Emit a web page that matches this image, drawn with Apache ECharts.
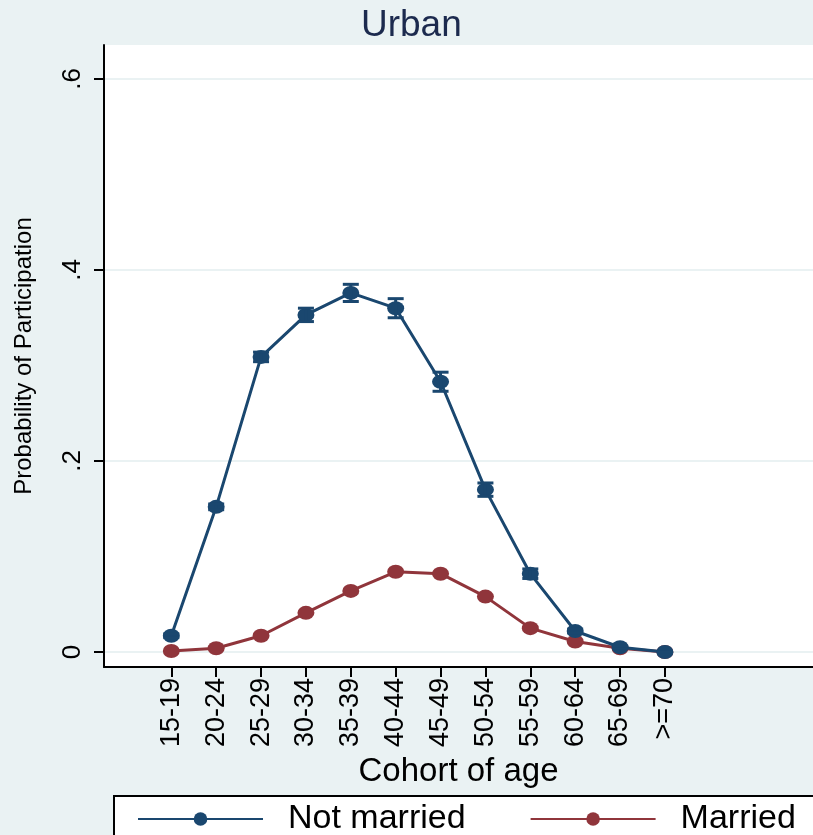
<!DOCTYPE html>
<html>
<head>
<meta charset="utf-8">
<script src="https://cdn.jsdelivr.net/npm/echarts@6/dist/echarts.min.js"></script>
<style>
html, body { margin: 0; padding: 0; background: #eaf2f3; }
#chart { width: 813px; height: 835px; }
</style>
</head>
<body>
<div id="chart"></div>
<script>
var cohorts = ['15-19', '20-24', '25-29', '30-34', '35-39', '40-44', '45-49', '50-54', '55-59', '60-64', '65-69', '>=70'];
var notMarried = [0.017, 0.152, 0.309, 0.353, 0.376, 0.360, 0.283, 0.170, 0.082, 0.022, 0.005, 0.000];
var notMarriedCI = [0.002, 0.003, 0.005, 0.007, 0.009, 0.010, 0.010, 0.007, 0.005, 0.002, 0.001, 0.000];
var married = [0.001, 0.004, 0.017, 0.041, 0.064, 0.084, 0.082, 0.058, 0.025, 0.011, 0.004, 0.000];
var yTicks = [0, 0.2, 0.4, 0.6];

var navy = '#1a476f';
var maroon = '#90353b';
var bg = '#eaf2f3';
var font = 'Liberation Sans, Arial, sans-serif';

var idx = cohorts.map(function (c, i) { return i; });

// vertical CI bar with caps
function errorBar(params, api) {
    var lo = api.coord([api.value(0), api.value(1)]);
    var hi = api.coord([api.value(0), api.value(2)]);
    var hw = 8;
    var st = { stroke: navy, lineWidth: 3 };
    return {
        type: 'group',
        children: [
            { type: 'line', shape: { x1: lo[0], y1: lo[1], x2: hi[0], y2: hi[1] }, style: st },
            { type: 'line', shape: { x1: lo[0] - hw, y1: lo[1], x2: lo[0] + hw, y2: lo[1] }, style: st },
            { type: 'line', shape: { x1: hi[0] - hw, y1: hi[1], x2: hi[0] + hw, y2: hi[1] }, style: st }
        ]
    };
}

// horizontal grid line across the plot
function gridLine(params, api) {
    var cs = params.coordSys;
    var y = api.coord([0, api.value(1)])[1];
    return {
        type: 'line',
        shape: { x1: cs.x, y1: y, x2: cs.x + cs.width, y2: y },
        style: { stroke: bg, lineWidth: 2 }
    };
}

var myChart = echarts.init(document.getElementById('chart'));
var option = {
    backgroundColor: bg,
    animation: false,
    textStyle: { fontFamily: font },
    title: {
        text: 'Urban',
        left: 356,
        top: 2,
        textStyle: { fontSize: 37, fontWeight: 'normal', color: '#1c2a4e', fontFamily: font }
    },
    graphic: [{
        type: 'rect',
        left: 113,
        top: 795,
        shape: { width: 740, height: 60 },
        style: { fill: '#fff', stroke: '#000', lineWidth: 2 },
        z: 0
    }],
    legend: {
        data: ['Not married', 'Married'],
        left: 132,
        top: 797,
        itemWidth: 125,
        itemHeight: 17,
        itemGap: 64,
        textStyle: { fontSize: 34, color: '#000', fontFamily: font, padding: [0, 0, 0, 20] },
        z: 5
    },
    grid: {
        left: 104,
        top: 45,
        right: 0,
        bottom: 168,
        outerBoundsMode: 'none',
        containLabel: false,
        show: true,
        backgroundColor: '#fff',
        borderWidth: 0
    },
    xAxis: {
        type: 'value',
        min: -1.5,
        max: 14.3,
        name: 'Cohort of age',
        nameLocation: 'middle',
        nameGap: 86,
        nameTextStyle: { fontSize: 33, color: '#000', fontFamily: font },
        axisLine: { show: true, onZero: false, lineStyle: { color: '#000', width: 2 } },
        axisTick: { show: true, length: 10, customValues: idx, lineStyle: { color: '#000', width: 2 } },
        axisLabel: {
            customValues: idx,
            rotate: 90,
            margin: 11,
            fontSize: 27,
            color: '#000',
            formatter: function (v) { return cohorts[Math.round(v)]; }
        },
        splitLine: { show: false }
    },
    yAxis: {
        type: 'value',
        min: -0.0157,
        max: 0.6356,
        name: 'Probability of Participation',
        nameLocation: 'middle',
        nameGap: 68,
        nameTextStyle: { fontSize: 24, color: '#000', fontFamily: font },
        axisLine: { show: true, onZero: false, lineStyle: { color: '#000', width: 2 } },
        axisTick: { show: true, length: 10, customValues: yTicks, lineStyle: { color: '#000', width: 2 } },
        axisLabel: {
            customValues: yTicks,
            rotate: 90,
            margin: 18,
            fontSize: 26,
            color: '#000',
            formatter: function (v) { return v === 0 ? '0' : String(Math.round(v * 10) / 10).replace(/^0/, ''); }
        },
        splitLine: { show: false }
    },
    series: [
        {
            name: 'grid',
            type: 'custom',
            renderItem: gridLine,
            data: yTicks.map(function (v) { return [0, v]; }),
            silent: true,
            z: 0
        },
        {
            name: 'Married',
            type: 'line',
            data: married.map(function (v, i) { return [i, v]; }),
            symbol: 'circle',
            symbolSize: [17, 14],
            itemStyle: { color: maroon },
            lineStyle: { color: maroon, width: 3 },
            z: 3
        },
        {
            name: 'Not married',
            type: 'line',
            data: notMarried.map(function (v, i) { return [i, v]; }),
            symbol: 'circle',
            symbolSize: [17, 14],
            itemStyle: { color: navy },
            lineStyle: { color: navy, width: 3 },
            z: 4
        },
        {
            name: 'Not married CI',
            type: 'custom',
            renderItem: errorBar,
            data: notMarried.map(function (v, i) { return [i, v - notMarriedCI[i], v + notMarriedCI[i]]; }),
            z: 5
        }
    ]
};
myChart.setOption(option);
</script>
</body>
</html>
